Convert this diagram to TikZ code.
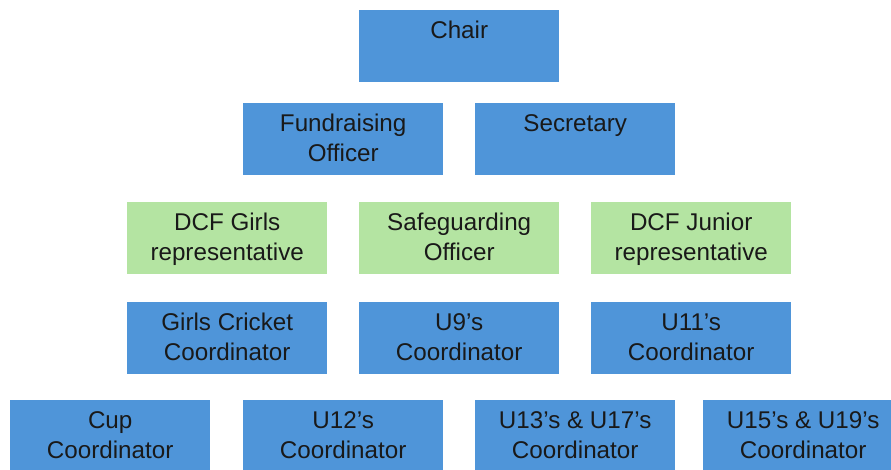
\documentclass[tikz,border=0pt]{standalone}
\usepackage{fontspec}
\setmainfont{Liberation Sans}
\definecolor{boxblue}{HTML}{4F95D9}
\definecolor{boxgreen}{HTML}{B4E4A2}
\tikzset{
  orgbox/.style={rectangle, inner sep=0pt, minimum width=200pt, minimum height=71.5pt, anchor=north west, draw=none},
  bluebox/.style={orgbox, fill=boxblue},
  greenbox/.style={orgbox, fill=boxgreen},
  boxtext/.style={anchor=north, inner sep=0pt, align=center, text=black!90,
    font=\fontsize{24.2}{30}\selectfont, yshift=-10.5pt}
}
\newcommand{\firstline}{\rule{0pt}{18pt}}
\begin{document}
\begin{tikzpicture}[x=1pt,y=-1pt]
\useasboundingbox (0,0) rectangle (891,469);
\clip (0,0) rectangle (891,469);
% row 1
\node[bluebox] (chair) at (359,10) {};
\node[boxtext] (chairt) at (chair.north) {\firstline Chair};
% row 2
\node[bluebox] (fund) at (243,103) {};
\node[boxtext] (fundt) at (fund.north) {\firstline Fundraising\\Officer};
\node[bluebox] (sec) at (475,103) {};
\node[boxtext] (sect) at (sec.north) {\firstline Secretary};
% row 3
\node[greenbox] (dcfg) at (127,202) {};
\node[boxtext] (dcfgt) at (dcfg.north) {\firstline DCF Girls\\representative};
\node[greenbox] (safe) at (359,202) {};
\node[boxtext] (safet) at (safe.north) {\firstline Safeguarding\\Officer};
\node[greenbox] (dcfj) at (591,202) {};
\node[boxtext] (dcfjt) at (dcfj.north) {\firstline DCF Junior\\representative};
% row 4
\node[bluebox] (girls) at (127,302) {};
\node[boxtext] (girlst) at (girls.north) {\firstline Girls Cricket\\Coordinator};
\node[bluebox] (u9) at (359,302) {};
\node[boxtext] (u9t) at (u9.north) {\firstline U9’s\\Coordinator};
\node[bluebox] (u11) at (591,302) {};
\node[boxtext] (u11t) at (u11.north) {\firstline U11’s\\Coordinator};
% row 5
\node[bluebox] (cup) at (10,400) {};
\node[boxtext] (cupt) at (cup.north) {\firstline Cup\\Coordinator};
\node[bluebox] (u12) at (243,400) {};
\node[boxtext] (u12t) at (u12.north) {\firstline U12’s\\Coordinator};
\node[bluebox] (u13) at (475,400) {};
\node[boxtext] (u13t) at (u13.north) {\firstline U13’s \& U17’s\\Coordinator};
\node[bluebox] (u15) at (703,400) {};
\node[boxtext] (u15t) at (u15.north) {\firstline U15’s \& U19’s\\Coordinator};
\end{tikzpicture}
\end{document}
